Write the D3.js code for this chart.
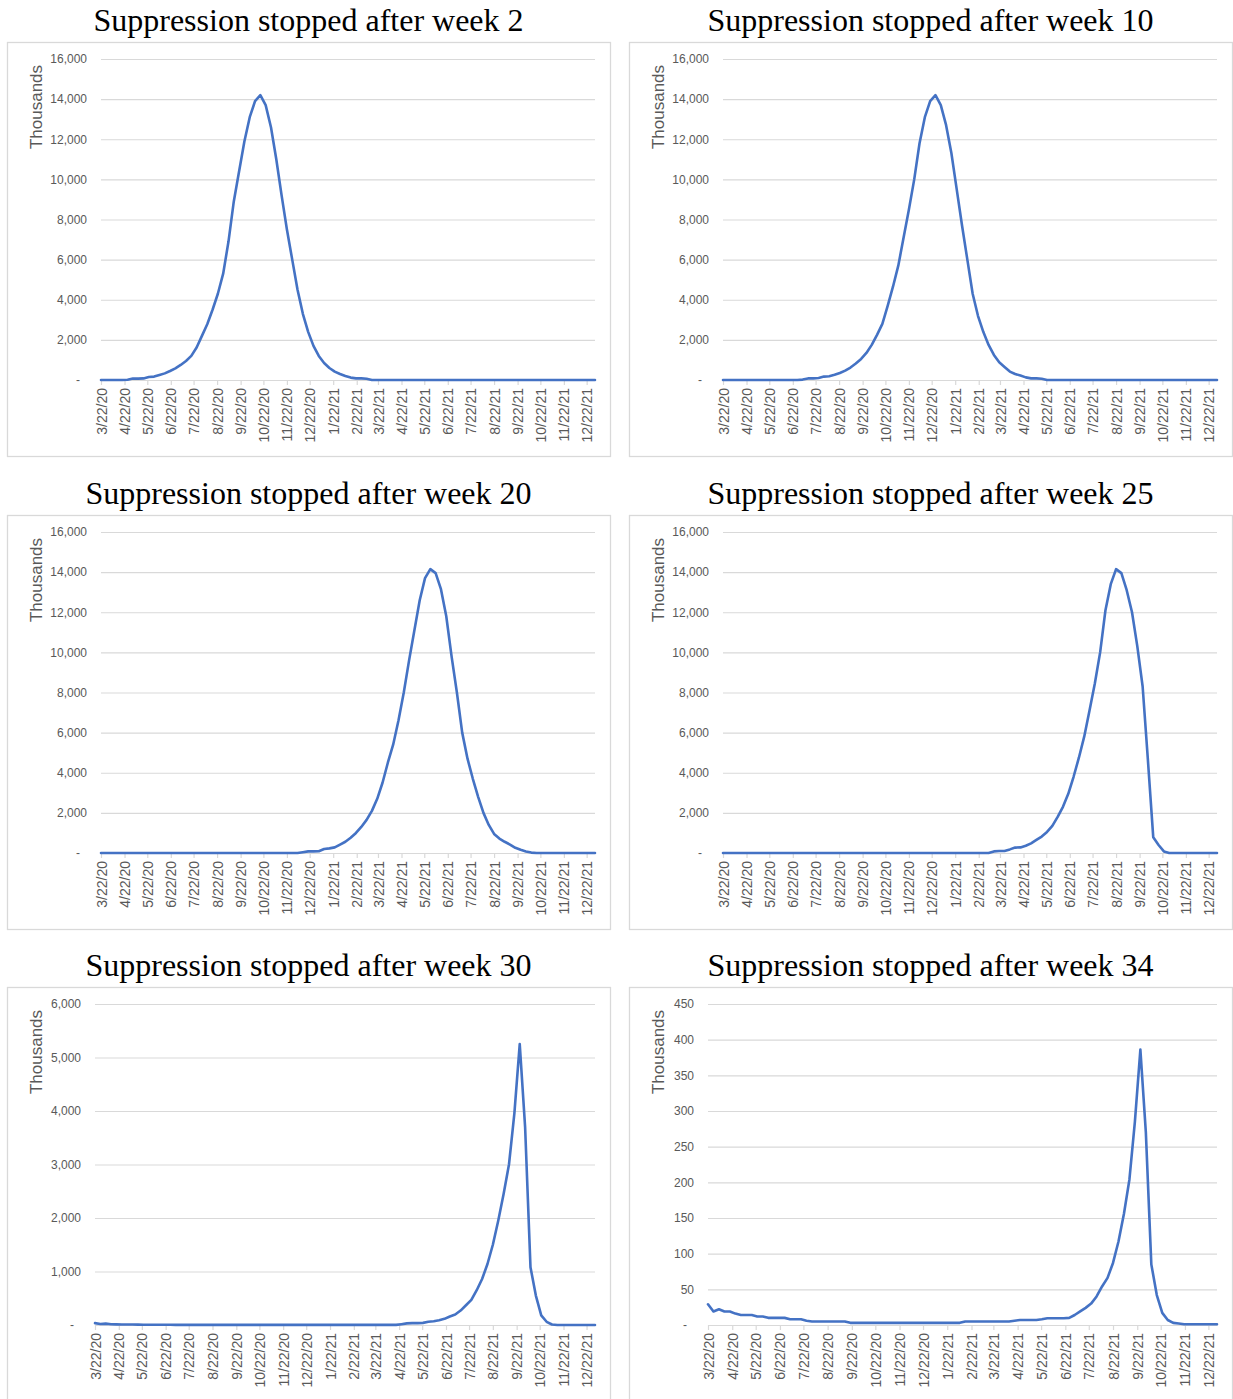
<!DOCTYPE html>
<html>
<head>
<meta charset="utf-8">
<script src="https://cdn.jsdelivr.net/npm/d3@7"></script>
<style>
  html, body { margin: 0; padding: 0; background: #fff; }
  svg { display: block; }
</style>
</head>
<body>
<svg id="chart" width="1233" height="1399"></svg>
<script>
// Weekly series, first week 3/22/20, 94 weeks (values in thousands)
const weekStart = "3/22/20";
const weekCount = 94;

const monthTicks = [
  "3/22/20", "4/22/20", "5/22/20", "6/22/20", "7/22/20", "8/22/20", "9/22/20",
  "10/22/20", "11/22/20", "12/22/20", "1/22/21", "2/22/21", "3/22/21", "4/22/21",
  "5/22/21", "6/22/21", "7/22/21", "8/22/21", "9/22/21", "10/22/21", "11/22/21", "12/22/21"
];

const titles = [
  "Suppression stopped after week 2",
  "Suppression stopped after week 10",
  "Suppression stopped after week 20",
  "Suppression stopped after week 25",
  "Suppression stopped after week 30",
  "Suppression stopped after week 34"
];

const yTicksLarge = [0, 2000, 4000, 6000, 8000, 10000, 12000, 14000, 16000];
const yTicksWeek30 = [0, 1000, 2000, 3000, 4000, 5000, 6000];
const yTicksWeek34 = [0, 50, 100, 150, 200, 250, 300, 350, 400, 450];

const stopWeek2 = [
  0, 0, 0, 0, 0, 10, 70, 70, 80, 150,
  170, 250, 330, 450, 580, 750, 950, 1200, 1620, 2200,
  2780, 3500, 4300, 5300, 6900, 8900, 10400, 11900, 13100, 13900,
  14200, 13700, 12600, 11000, 9200, 7500, 6000, 4500, 3300, 2400,
  1700, 1200, 850, 600, 420, 300, 200, 120, 80, 80,
  60, 0, 0, 0, 0, 0, 0, 0, 0, 0,
  0, 0, 0, 0, 0, 0, 0, 0, 0, 0,
  0, 0, 0, 0, 0, 0, 0, 0, 0, 0,
  0, 0, 0, 0, 0, 0, 0, 0, 0, 0,
  0, 0, 0, 0
];

const stopWeek10 = [
  0, 0, 0, 0, 0, 0, 0, 0, 0, 0,
  0, 0, 0, 0, 0, 20, 80, 80, 100, 170,
  190, 260, 350, 470, 620, 820, 1050, 1350, 1750, 2250,
  2800, 3700, 4650, 5700, 7100, 8500, 10000, 11800, 13100, 13900,
  14200, 13700, 12700, 11300, 9500, 7700, 6000, 4300, 3200, 2400,
  1750, 1250, 880, 650, 420, 300, 220, 130, 80, 80,
  60, 0, 0, 0, 0, 0, 0, 0, 0, 0,
  0, 0, 0, 0, 0, 0, 0, 0, 0, 0,
  0, 0, 0, 0, 0, 0, 0, 0, 0, 0,
  0, 0, 0, 0
];

const stopWeek20 = [
  0, 0, 0, 0, 0, 0, 0, 0, 0, 0,
  0, 0, 0, 0, 0, 0, 0, 0, 0, 0,
  0, 0, 0, 0, 0, 0, 0, 0, 0, 0,
  0, 0, 0, 0, 0, 0, 0, 0, 40, 80,
  80, 90, 200, 230, 280, 420, 560, 760, 1000, 1300,
  1650, 2100, 2700, 3500, 4500, 5400, 6600, 8000, 9600, 11100,
  12600, 13700, 14150, 13950, 13150, 11800, 9800, 8000, 6000, 4700,
  3700, 2800, 2000, 1400, 950, 720, 560, 420, 260, 160,
  80, 20, 0, 0, 0, 0, 0, 0, 0, 0,
  0, 0, 0, 0
];

const stopWeek25 = [
  0, 0, 0, 0, 0, 0, 0, 0, 0, 0,
  0, 0, 0, 0, 0, 0, 0, 0, 0, 0,
  0, 0, 0, 0, 0, 0, 0, 0, 0, 0,
  0, 0, 0, 0, 0, 0, 0, 0, 0, 0,
  0, 0, 0, 0, 0, 0, 0, 0, 0, 0,
  0, 80, 100, 100, 180, 270, 280, 360, 480, 650,
  820, 1050, 1350, 1800, 2300, 2950, 3800, 4750, 5800, 7100,
  8450, 10000, 12100, 13400, 14150, 13950, 13100, 12000, 10300, 8300,
  4600, 780, 400, 80, 0, 0, 0, 0, 0, 0,
  0, 0, 0, 0
];

const stopWeek30 = [
  35, 18, 25, 15, 12, 10, 8, 8, 7, 6,
  6, 5, 5, 4, 4, 3, 3, 3, 2, 2,
  2, 2, 2, 2, 2, 2, 2, 2, 2, 2,
  2, 2, 2, 2, 2, 2, 2, 2, 2, 2,
  2, 2, 2, 2, 2, 2, 2, 2, 2, 2,
  2, 2, 2, 2, 2, 2, 2, 15, 30, 35,
  35, 40, 60, 70, 90, 115, 160, 195, 270, 370,
  470, 650, 860, 1140, 1500, 1950, 2450, 3000, 3950, 5250,
  3700, 1080, 550, 180, 60, 10, 0, 0, 0, 0,
  0, 0, 0, 0
];

const stopWeek34 = [
  29, 19, 22, 19, 19, 16, 14, 14, 14, 12,
  12, 10, 10, 10, 10, 8, 8, 8, 6, 5,
  5, 5, 5, 5, 5, 5, 3, 3, 3, 3,
  3, 3, 3, 3, 3, 3, 3, 3, 3, 3,
  3, 3, 3, 3, 3, 3, 3, 5, 5, 5,
  5, 5, 5, 5, 5, 5, 6, 7, 7, 7,
  7, 8, 9.5, 9.5, 9.5, 9.5, 10, 14, 19, 24,
  30, 40, 54, 66, 87, 117, 156, 204, 285, 386,
  270, 85, 42, 17, 7, 3, 2, 1, 1, 1,
  1, 1, 1, 1
];

// ---- layout ----
const BOX_W = 603, BOX_H = 414;
const PLOT_RIGHT = 588, PLOT_TOP = 17, PLOT_BOTTOM = 338;
const panels = [
  { title: titles[0], values: stopWeek2,  ticks: yTicksLarge,  bx: 7,   by: 42,  left: 94 },
  { title: titles[1], values: stopWeek10, ticks: yTicksLarge,  bx: 629, by: 42,  left: 94 },
  { title: titles[2], values: stopWeek20, ticks: yTicksLarge,  bx: 7,   by: 515, left: 94 },
  { title: titles[3], values: stopWeek25, ticks: yTicksLarge,  bx: 629, by: 515, left: 94 },
  { title: titles[4], values: stopWeek30, ticks: yTicksWeek30, bx: 7,   by: 987, left: 88 },
  { title: titles[5], values: stopWeek34, ticks: yTicksWeek34, bx: 629, by: 987, left: 79 }
];

const TEXT_GREY = "#595959";
const GRID = "#d9d9d9";
const LINE_BLUE = "#4472c4";
const SANS = "'Liberation Sans', Arial, sans-serif";

const parse = d3.utcParse("%m/%d/%y");
const start = parse(weekStart);
const dates = d3.range(weekCount).map(i => d3.utcDay.offset(start, 7 * i));
const tickDates = monthTicks.map(parse);
const fmtDate = d3.utcFormat("%-m/%-d/%y");
const fmtNum = d3.format(",");

const svg = d3.select("#chart");

panels.forEach(p => {
  // title above the chart frame
  svg.append("text")
    .attr("x", p.bx + BOX_W / 2)
    .attr("y", p.by - 11)
    .attr("text-anchor", "middle")
    .attr("font-family", "'Liberation Serif', 'Times New Roman', serif")
    .attr("font-size", 32)
    .attr("fill", "#000")
    .text(p.title);

  const g = svg.append("g").attr("transform", `translate(${p.bx},${p.by})`);

  // chart frame
  g.append("rect")
    .attr("x", 0.5).attr("y", 0.5)
    .attr("width", BOX_W).attr("height", BOX_H)
    .attr("fill", "#fff")
    .attr("stroke", GRID)
    .attr("stroke-width", 1.3);

  const x = d3.scaleUtc()
    .domain([dates[0], dates[dates.length - 1]])
    .range([p.left, PLOT_RIGHT]);
  const y = d3.scaleLinear()
    .domain([0, d3.max(p.ticks)])
    .range([PLOT_BOTTOM, PLOT_TOP]);

  // value axis with horizontal gridlines
  const yAxis = g.append("g")
    .attr("transform", `translate(${p.left},0)`)
    .call(d3.axisLeft(y)
      .tickValues(p.ticks)
      .tickSize(-(PLOT_RIGHT - p.left))
      .tickPadding(14)
      .tickFormat(v => v === 0 ? "-" : fmtNum(v)));
  yAxis.select(".domain").remove();
  yAxis.selectAll(".tick line")
    .attr("stroke", GRID)
    .attr("stroke-width", 1.2);
  yAxis.selectAll(".tick text")
    .attr("font-family", SANS)
    .attr("font-size", 12)
    .attr("fill", TEXT_GREY)
    .attr("dx", v => v === 0 ? -7 : 0);

  // date axis
  const xAxis = g.append("g")
    .attr("transform", `translate(0,${PLOT_BOTTOM})`)
    .call(d3.axisBottom(x)
      .tickValues(tickDates)
      .tickSize(5)
      .tickSizeOuter(0)
      .tickFormat(fmtDate));
  xAxis.select(".domain").attr("stroke", GRID).attr("stroke-width", 1.2);
  xAxis.selectAll(".tick line").attr("stroke", GRID).attr("stroke-width", 1.2);
  xAxis.selectAll(".tick text")
    .attr("font-family", SANS)
    .attr("font-size", 14)
    .attr("fill", TEXT_GREY)
    .attr("transform", "rotate(-90)")
    .attr("text-anchor", "end")
    .attr("x", -8)
    .attr("y", 0)
    .attr("dy", "0.36em");

  // axis title
  g.append("text")
    .attr("transform", `translate(35,${PLOT_TOP + 48}) rotate(-90)`)
    .attr("text-anchor", "middle")
    .attr("font-family", SANS)
    .attr("font-size", 17)
    .attr("fill", TEXT_GREY)
    .text("Thousands");

  // series line
  const line = d3.line()
    .x((d, i) => x(dates[i]))
    .y(d => y(d));
  g.append("path")
    .datum(p.values)
    .attr("d", line)
    .attr("fill", "none")
    .attr("stroke", LINE_BLUE)
    .attr("stroke-width", 2.6)
    .attr("stroke-linejoin", "round")
    .attr("stroke-linecap", "round");
});
</script>
</body>
</html>
